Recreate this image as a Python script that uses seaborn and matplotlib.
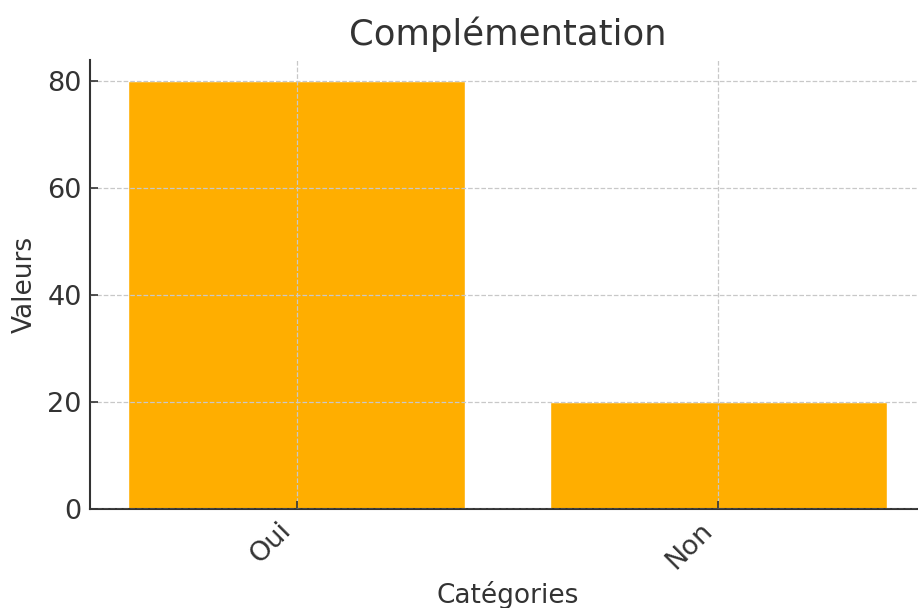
import matplotlib
matplotlib.use("Agg")
import matplotlib.pyplot as plt
import seaborn as sns
import pandas as pd

categories = ["Oui", "Non"]
values = [80, 20]

sns.set_theme(style="white")
plt.rcParams['font.family'] = ['DejaVu Sans']
text_color = "#333333"

df = pd.DataFrame({"Catégories": categories, "Valeurs": values})

fig = plt.figure(figsize=(9.18, 6.08), dpi=100)
ax = fig.add_axes([90/918, 99/608, 835/918, 449/608])
sns.barplot(data=df, x="Catégories", y="Valeurs", color="#FFAE00",
            saturation=1, width=0.8, ax=ax)
ax.set_xlim(-0.49, 1.49)
ax.set_ylim(0, 84)
ax.set_axisbelow(False)
ax.grid(True, linestyle="--", color="#c8c8c8", linewidth=0.9)
for s in ["top", "right"]:
    ax.spines[s].set_visible(False)
for s in ["left", "bottom"]:
    ax.spines[s].set_color(text_color)
    ax.spines[s].set_linewidth(1.5)
ax.tick_params(axis="both", direction="in", length=6, width=1.2, pad=6,
               colors=text_color, labelsize=19.5, left=True, bottom=True)
ax.set_yticks([0, 20, 40, 60, 80])
plt.setp(ax.get_xticklabels(), rotation=45, ha="right")
ax.set_title("Complémentation", fontsize=25.5, color=text_color, pad=11)
ax.set_xlabel("Catégories", fontsize=19, color=text_color, labelpad=5)
ax.set_ylabel("Valeurs", fontsize=19, color=text_color, labelpad=6.5)
fig.savefig("out.png", dpi=100)
